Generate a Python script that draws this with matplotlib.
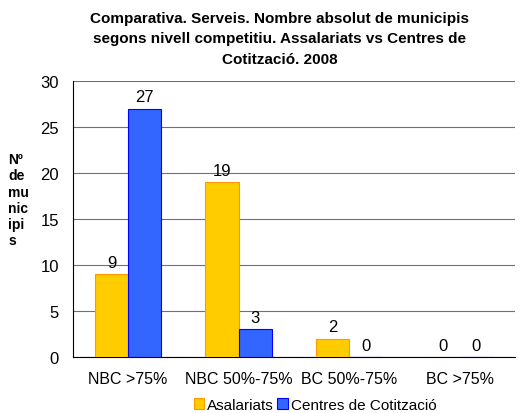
import numpy as np
import matplotlib.pyplot as plt

plt.rcParams['font.family'] = ['Liberation Sans', 'DejaVu Sans']

# Data
categories = ["NBC >75%", "NBC 50%-75%", "BC 50%-75%", "BC >75%"]
asalariats = [9, 19, 2, 0]
centres = [27, 3, 0, 0]

fig = plt.figure(figsize=(5.2, 4.14), dpi=100)
ax = fig.add_axes([0.140, 0.135, 0.850, 0.667])

x = np.arange(len(categories))
w = 0.3

b1 = ax.bar(x - w / 2, asalariats, w, color="#FFCC00", edgecolor="#FF9900",
            linewidth=0.8, label="Asalariats", zorder=3)
b2 = ax.bar(x + w / 2, centres, w, color="#3366FF", edgecolor="#0000FF",
            linewidth=0.8, label="Centres de Cotització", zorder=3)

for bars in (b1, b2):
    for r in bars:
        ax.text(r.get_x() + r.get_width() / 2, r.get_height() + 0.5,
                str(int(r.get_height())), ha="center", va="bottom", fontsize=12)

ax.set_xlim(-0.5, 3.5)
ax.set_ylim(0, 30)
ax.set_yticks(range(0, 31, 5))
ax.set_xticks(x)
ax.set_xticklabels(categories, fontsize=11.5)
ax.tick_params(axis="y", labelsize=12, length=0, pad=10)
ax.tick_params(axis="x", length=0, pad=10)
ax.grid(axis="y", color="#707070", linewidth=0.8, zorder=0)
ax.spines["top"].set_visible(False)
ax.spines["right"].set_visible(False)

fig.text(0.016, 0.63, "Nº\nde\nmu\nnic\nipi\ns", fontsize=10, fontweight="bold",
         ha="left", va="top", linespacing=1.2)

fig.suptitle("Comparativa. Serveis. Nombre absolut de municipis\n"
             "segons nivell competitiu. Assalariats vs Centres de\n"
             "Cotització. 2008", x=0.538, y=0.972, fontsize=11, fontweight="bold",
             linespacing=1.62)

fig.legend(loc="lower center", bbox_to_anchor=(0.606, -0.03), ncol=2, frameon=False,
           fontsize=11, handlelength=0.7, handleheight=0.7, handletextpad=0.2,
           columnspacing=0.2)

fig.savefig("out.png", dpi=100)
